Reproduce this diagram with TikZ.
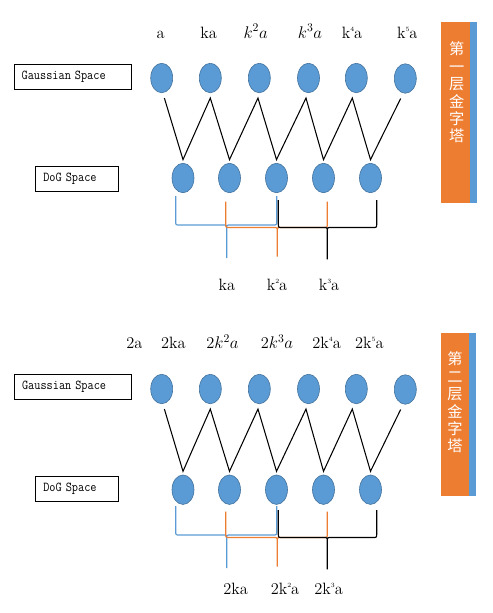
\documentclass[tikz,border=0pt]{standalone}
\usepackage{fontspec}
\newfontfamily\cjk{Noto Sans CJK SC}
\usepackage{xcolor}
\usepackage{tikz}
\usetikzlibrary{positioning,shapes.geometric,calc}
\definecolor{gblue}{HTML}{5B9BD5}
\definecolor{gblueline}{HTML}{41719C}
\definecolor{gorange}{HTML}{ED7D31}
\newcommand{\kp}[1]{k\raisebox{0.9ex}{\fontsize{5.5}{6}\selectfont #1}a}
\newcommand{\spc}[1]{\scalebox{0.88}[1]{#1}}
% brace pointing down: style, left x, tip x, right x, top y, bend y, tip y
\newcommand{\wbrace}[7]{%
  \draw[#1] (#2,#5) -- (#2,#6-4) .. controls (#2,#6) .. (#2+4,#6)
    -- (#3-4,#6) .. controls (#3,#6) .. (#3,#6+4) -- (#3,#7)
    (#3,#6+4) .. controls (#3,#6) .. (#3+4,#6)
    -- (#4-4,#6) .. controls (#4,#6) .. (#4,#6-4) -- (#4,#5);}
\tikzset{
  gcirc/.style={ellipse, draw=gblueline, fill=gblue, line width=0.5pt,
                minimum width=6.6mm, minimum height=8.85mm, inner sep=0pt},
  spacebox/.style={draw, line width=0.8pt, align=left,
                   font=\ttfamily\fontsize{11.6}{13}\selectfont,
                   minimum height=7.5mm, inner xsep=2.3mm, inner ysep=0pt},
  sig/.style={anchor=base, font=\fontsize{14}{16}\selectfont, inner sep=0pt},
  zig/.style={line width=0.9pt},
  bar/.style={fill=gorange, anchor=north west, inner sep=0pt},
  bartxt/.style={font=\cjk\fontsize{13}{14.9}\selectfont, text=white,
                 align=center, inner sep=0pt},
  brc/.style={line width=1pt},
}
\begin{document}
\begin{tikzpicture}[x=0.3mm, y=-0.3mm]
  \useasboundingbox (0,0) rectangle (493,613);
  % ---- first octave ----
  % scale labels
  \node[sig] (a1) at (160.7,38) {a};
  \node[sig] (a2) at (208.7,38) {ka};
  \node[sig] (a3) at (255.7,38) {$k^2a$};
  \node[sig] (a4) at (310,38) {$k^3a$};
  \node[sig] (a5) at (352,38) {\kp{4}};
  \node[sig] (a6) at (407.3,38) {\kp{5}};
  % space boxes
  \node[spacebox, text width=30.5mm] (gs1) at (72.5,76.8) {\spc{Gaussian Space}};
  \node[spacebox, text width=20.2mm] (ds1) at (77,178.7) {\spc{DoG Space}};
  % gaussian + dog images
  \node[gcirc] (g1) at (161.7,78) {};
  \node[gcirc] (g2) at (210.3,78) {};
  \node[gcirc] (g3) at (259.3,78) {};
  \node[gcirc] (g4) at (308.5,78) {};
  \node[gcirc] (g5) at (356.3,78) {};
  \node[gcirc] (g6) at (405.3,78.5) {};
  \node[gcirc] (d1) at (183,178) {};
  \node[gcirc] (d2) at (229.5,178) {};
  \node[gcirc] (d3) at (276.5,178) {};
  \node[gcirc] (d4) at (323.5,178) {};
  \node[gcirc] (d5) at (370.5,178) {};
  % differences
  \draw[zig] ([shift={(0.8mm,-1.5mm)}]g1.south) -- ([yshift=1mm]d1.north)
    -- ([yshift=-1.5mm]g2.south) -- ([yshift=1mm]d2.north)
    -- ([shift={(-0.4mm,-1.5mm)}]g3.south) -- ([yshift=1mm]d3.north)
    -- ([shift={(-0.75mm,-1.5mm)}]g4.south) -- ([yshift=1mm]d4.north)
    -- ([shift={(-1.2mm,-1.5mm)}]g5.south) -- ([yshift=1mm]d5.north)
    -- ([shift={(-1.4mm,-1.5mm)}]g6.south);
  % braces
  \wbrace{brc, gblue}{175.7}{226.7}{276.7}{196}{225}{258}
  \wbrace{brc, gorange}{225.7}{277.3}{327.3}{201.7}{227.5}{256.7}
  \wbrace{brc, black}{278.3}{327.3}{376.7}{200}{227.5}{259.3}
  \node[sig] (b1) at (227,290) {ka};
  \node[sig] (b2) at (277,290) {\kp{2}};
  \node[sig] (b3) at (329,290) {\kp{3}};
  % pyramid tag
  \node[bar, minimum width=8.5mm, minimum height=54.3mm] (bar1) at (441,21.7) {};
  \fill[gblue] (bar1.north east) rectangle ([xshift=2.2mm]bar1.south east);
  \node[bartxt] (tag1) at (456.7,92.5) {第\\一\\层\\金\\字\\塔};

  % ---- second octave ----
  \node[sig] (c1) at (134.3,348.3) {2a};
  \node[sig] (c2) at (173.3,348.3) {2ka};
  \node[sig] (c3) at (222.5,348.3) {2$k^2a$};
  \node[sig] (c4) at (277,348.3) {2$k^3a$};
  \node[sig] (c5) at (326.7,348.3) {2\kp{4}};
  \node[sig] (c6) at (369.3,348.3) {2\kp{5}};
  \node[spacebox, text width=30.5mm] (gs2) at (72.9,386.8) {\spc{Gaussian Space}};
  \node[spacebox, text width=20.2mm] (ds2) at (77,489.2) {\spc{DoG Space}};
  \node[gcirc] (h1) at (161.7,389) {};
  \node[gcirc] (h2) at (210.3,389) {};
  \node[gcirc] (h3) at (259.3,389) {};
  \node[gcirc] (h4) at (308.5,389) {};
  \node[gcirc] (h5) at (356.3,389) {};
  \node[gcirc] (h6) at (405.3,389.5) {};
  \node[gcirc] (e1) at (183,489.7) {};
  \node[gcirc] (e2) at (229.5,489.7) {};
  \node[gcirc] (e3) at (276.5,489.7) {};
  \node[gcirc] (e4) at (323.5,489.7) {};
  \node[gcirc] (e5) at (370.5,489.7) {};
  \draw[zig] ([shift={(0.8mm,-1.5mm)}]h1.south) -- ([yshift=1mm]e1.north)
    -- ([yshift=-1.5mm]h2.south) -- ([yshift=1mm]e2.north)
    -- ([shift={(-0.4mm,-1.5mm)}]h3.south) -- ([yshift=1mm]e3.north)
    -- ([shift={(-0.75mm,-1.5mm)}]h4.south) -- ([yshift=1mm]e4.north)
    -- ([shift={(-1.2mm,-1.5mm)}]h5.south) -- ([yshift=1mm]e5.north)
    -- ([shift={(-1.4mm,-1.5mm)}]h6.south);
  \wbrace{brc, gblue}{175.7}{226.7}{276.7}{506}{535}{568}
  \wbrace{brc, gorange}{225.7}{277.3}{327.3}{511.7}{537.5}{566.7}
  \wbrace{brc, black}{278.3}{327.3}{376.7}{510}{537.5}{569.3}
  \node[sig] (f1) at (235.7,594) {2ka};
  \node[sig] (f2) at (285,594) {2\kp{2}};
  \node[sig] (f3) at (328.7,594) {2\kp{3}};
  \node[bar, minimum width=8.2mm, minimum height=48.9mm] (bar2) at (441,332.7) {};
  \fill[gblue] (bar2.north east) rectangle ([xshift=2.2mm]bar2.south east);
  \node[bartxt] (tag2) at (455,402.5) {第\\二\\层\\金\\字\\塔};
\end{tikzpicture}
\end{document}
